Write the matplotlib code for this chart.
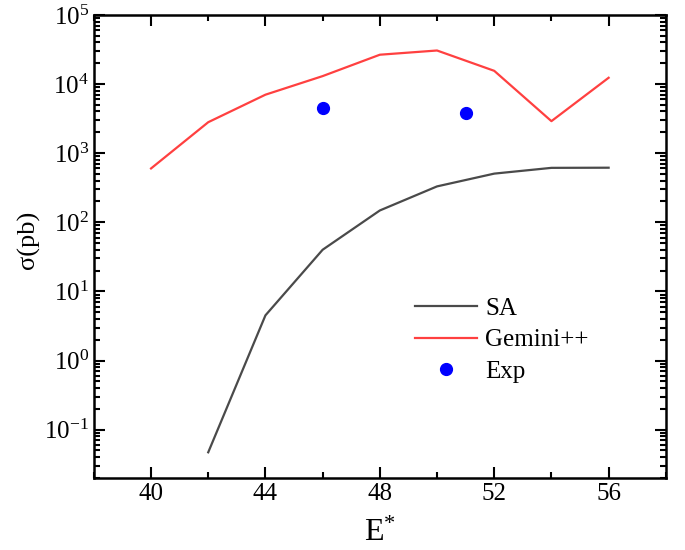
import matplotlib
matplotlib.use("Agg")
import matplotlib.pyplot as plt
from matplotlib.ticker import FixedLocator, LogLocator, MultipleLocator, NullFormatter

plt.rcParams['font.family'] = ['Liberation Serif', 'DejaVu Serif']
plt.rcParams['mathtext.fontset'] = 'custom'
plt.rcParams['mathtext.rm'] = 'Liberation Serif'
plt.rcParams['mathtext.it'] = 'Liberation Serif:italic'

# excitation energy grid and cross sections (pb)
energy_gemini = [40, 42, 44, 46, 48, 50, 52, 54, 56]
sigma_gemini = [600, 2800, 7000, 13000, 26500, 30500, 15500, 2900, 12300]

energy_sa = [42, 44, 46, 48, 50, 52, 54, 56]
sigma_sa = [0.047, 4.5, 40, 148, 330, 505, 612, 615]

energy_exp = [46, 51]
sigma_exp = [4500, 3800]

decades = [1e-1, 1e0, 1e1, 1e2, 1e3, 1e4, 1e5]

fig = plt.figure(figsize=(6.85, 5.5), dpi=100)
ax = fig.add_axes([0.137, 0.131, 0.835, 0.842])

ax.plot(energy_sa, sigma_sa, color='#4a4a4a', lw=1.6, label='SA')
ax.plot(energy_gemini, sigma_gemini, color='#ff4040', lw=1.6, label='Gemini++')
ax.plot(energy_exp, sigma_exp, 'o', color='#0000ff', ms=8.5, label='Exp')

ax.set_yscale('log')
ax.set_xlim(38, 58)
ax.set_ylim(0.02, 1e5)

ax.xaxis.set_major_locator(MultipleLocator(4))
ax.xaxis.set_minor_locator(MultipleLocator(2))
ax.yaxis.set_major_locator(FixedLocator(decades))
ax.yaxis.set_minor_locator(LogLocator(base=10, subs=range(2, 10), numticks=20))
ax.yaxis.set_minor_formatter(NullFormatter())

ax.tick_params(which='both', direction='in', top=True, right=True, labelsize=18, width=1.5)
ax.tick_params(which='major', length=8)
ax.tick_params(which='minor', length=4)
for s in ax.spines.values():
    s.set_linewidth(1.8)

ax.set_xlabel(r'E$^{*}$', fontsize=23, labelpad=10)
ax.set_ylabel('σ(pb)', fontsize=19)
ax.yaxis.set_label_coords(-0.094, 0.514)

ax.legend(loc='lower right', bbox_to_anchor=(0.904, 0.157), frameon=False, fontsize=18,
          handlelength=2.5, handletextpad=0.3, labelspacing=0.35, numpoints=1)

fig.savefig('out.png', dpi=100)
